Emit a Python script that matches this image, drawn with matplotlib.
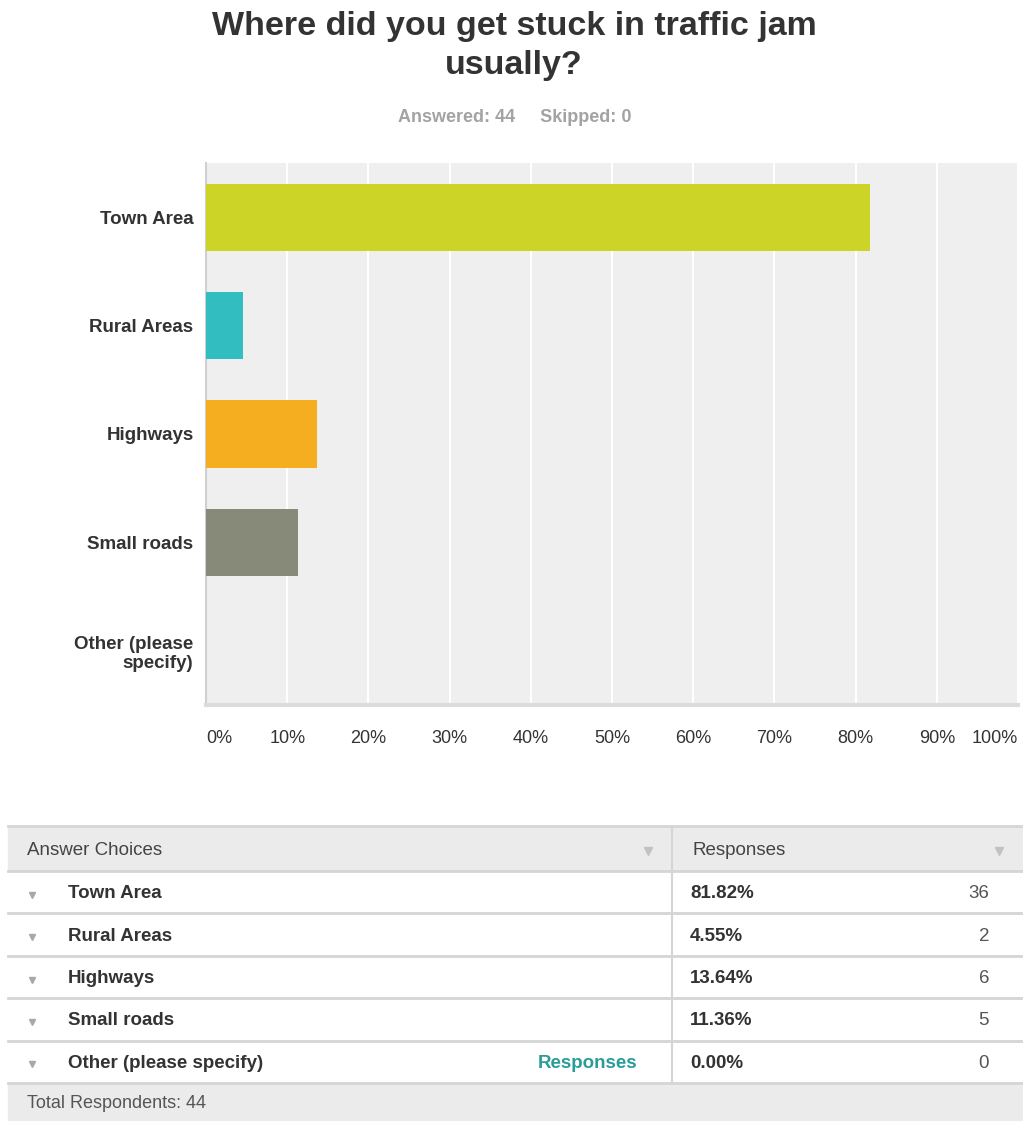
import matplotlib
matplotlib.use('Agg')
import matplotlib.pyplot as plt
from matplotlib.patches import Rectangle

plt.rcParams['font.family'] = ['Liberation Sans', 'DejaVu Sans']

# survey results
choices = ['Town Area', 'Rural Areas', 'Highways', 'Small roads', 'Other (please specify)']
axis_labels = ['Town Area', 'Rural Areas', 'Highways', 'Small roads', 'Other (please\nspecify)']
percents = [81.82, 4.55, 13.64, 11.36, 0.00]
counts = [36, 2, 6, 5, 0]
colors = ['#CDD428', '#32BEC0', '#F5AE1F', '#878A79', '#B5B5B5']
answered = 44
skipped = 0

W, H = 1023, 1121
fig = plt.figure(figsize=(W / 100, H / 100), dpi=100)
fig.patch.set_facecolor('white')

fig.text(514 / W, 1 - 46 / H, 'Where did you get stuck in traffic jam\nusually?',
         ha='center', va='center', fontsize=24.5, fontweight='bold', color='#333333',
         linespacing=1.32)
fig.text(515 / W, 1 - 118 / H, f'Answered: {answered}     Skipped: {skipped}',
         ha='center', va='center', fontsize=13, fontweight='bold', color='#A3A3A3')

# bar chart
ax = fig.add_axes([206 / W, 1 - 705 / H, 812 / W, 542 / H])
ax.set_facecolor('#EFEFEF')
ypos = list(range(len(choices)))
ax.barh(ypos, percents, height=0.62, color=colors, zorder=3)
ax.set_xlim(0, 100)
ax.set_ylim(4.5, -0.5)
ax.set_xticks(range(0, 101, 10))
ax.grid(axis='x', color='white', linewidth=1.5, zorder=1)
ax.set_yticks(ypos)
ax.set_yticklabels(axis_labels, fontsize=13.5, fontweight='bold', color='#333333')
ax.tick_params(axis='y', length=0, pad=9)
ax.tick_params(axis='x', length=0, pad=18)
ax.set_xticklabels([f'{t}%' for t in range(0, 101, 10)], fontsize=13, color='#333333')
xt = ax.get_xticklabels()
xt[0].set_ha('left')
xt[-1].set_ha('right')
for side in ['top', 'right']:
    ax.spines[side].set_visible(False)
ax.spines['left'].set_color('#D0D0D0')
ax.spines['left'].set_linewidth(1.5)
ax.spines['bottom'].set_color('#DCDCDC')
ax.spines['bottom'].set_linewidth(3)

# response table
tb = fig.add_axes([0, 0, 1, 1])
tb.set_xlim(0, W)
tb.set_ylim(H, 0)
tb.axis('off')

x0, x1, xdiv = 8, 1022, 672
head_top, head_bot = 826, 871
row_h = 42.4
foot_top = head_bot + row_h * len(choices)

tb.add_patch(Rectangle((x0, head_top), x1 - x0, head_bot - head_top, color='#EBEBEB', zorder=1))
tb.add_patch(Rectangle((x0, foot_top), x1 - x0, H - foot_top, color='#EBEBEB', zorder=1))
tb.plot([x0, x1], [head_top, head_top], color='#D5D5D5', lw=2, zorder=2)
tb.plot([xdiv, xdiv], [head_top, foot_top], color='#D5D5D5', lw=1.5, zorder=2)

tb.text(27, (head_top + head_bot) / 2 + 2, 'Answer Choices', ha='left', va='center',
        fontsize=13.5, color='#444444')
tb.text(692, (head_top + head_bot) / 2 + 2, 'Responses', ha='left', va='center',
        fontsize=13.5, color='#444444')
tb.plot([648, 999], [(head_top + head_bot) / 2 + 2] * 2, 'v', color='#C2C2C2', ms=6, zorder=3)

for i, (name, pct, n) in enumerate(zip(choices, percents, counts)):
    top = head_bot + i * row_h
    mid = top + row_h / 2 + 1.5
    tb.plot([x0, x1], [top, top], color='#D5D5D5', lw=2, zorder=2)
    tb.plot(32, mid + 1, 'v', color='#A8A8A8', ms=5, zorder=3)
    tb.text(68, mid, name, ha='left', va='center', fontsize=13.5, fontweight='bold', color='#333333')
    tb.text(690, mid, f'{pct:.2f}%', ha='left', va='center', fontsize=13.5, fontweight='bold',
            color='#333333')
    tb.text(989, mid, str(n), ha='right', va='center', fontsize=13.5, color='#555555')
    if name.startswith('Other'):
        tb.text(637, mid, 'Responses', ha='right', va='center', fontsize=13.5,
                fontweight='bold', color='#2A9D99')
tb.plot([x0, x1], [foot_top, foot_top], color='#D5D5D5', lw=2, zorder=2)
tb.text(27, (foot_top + H) / 2 + 1, f'Total Respondents: {answered}', ha='left', va='center',
        fontsize=13, color='#555555')

fig.savefig('out.png', dpi=100)
